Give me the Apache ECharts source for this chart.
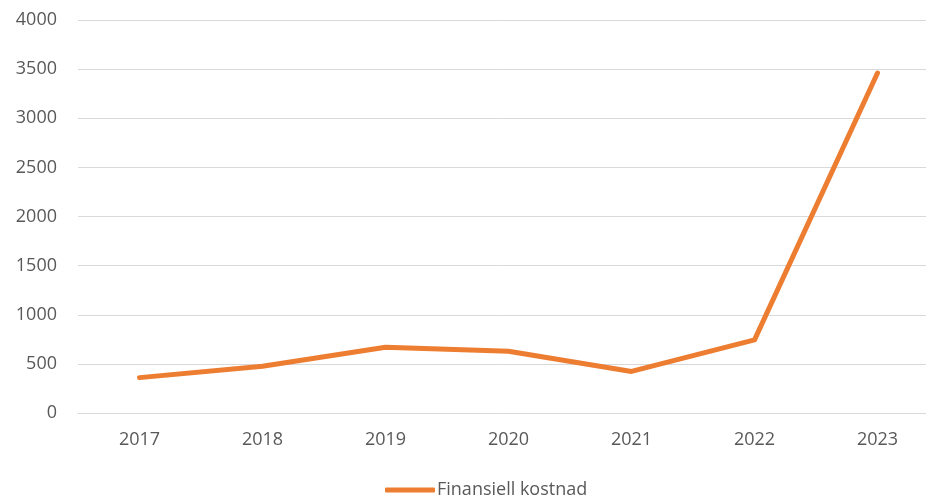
<!DOCTYPE html>
<html>
<head>
<meta charset="utf-8">
<script src="https://cdn.jsdelivr.net/npm/echarts@6/dist/echarts.min.js"></script>
<style>
html,body{margin:0;padding:0;background:#fff;}
#chart{width:926px;height:497px;}
</style>
</head>
<body>
<div id="chart"></div>
<script>
const categories = ['2017','2018','2019','2020','2021','2022','2023'];
const seriesName = 'Finansiell kostnad';
const values = [360, 476, 669, 629, 423, 744, 3460];
const yTicks = {min: 0, max: 4000, interval: 500};

const chart = echarts.init(document.getElementById('chart'));
const font = '"Open Sans", "Noto Sans", sans-serif';
chart.setOption({
  animation: false,
  backgroundColor: '#ffffff',
  grid: {left: 78, top: 20, width: 861, height: 393, containLabel: false, outerBoundsMode: 'none'},
  legend: {
    data: [seriesName],
    left: 380, top: 476,
    icon: 'roundRect',
    itemWidth: 50, itemHeight: 5,
    textStyle: {fontFamily: font, fontSize: 18, color: '#595959', padding: [0,0,0,-3]}
  },
  xAxis: {
    type: 'category',
    data: categories,
    boundaryGap: true,
    axisLine: {show: true, lineStyle: {color: '#D9D9D9', width: 1}},
    axisTick: {show: false},
    axisLabel: {fontFamily: font, fontSize: 18, color: '#595959', margin: 18}
  },
  yAxis: {
    type: 'value',
    min: yTicks.min, max: yTicks.max, interval: yTicks.interval,
    axisLine: {show: false},
    axisTick: {show: false},
    splitLine: {lineStyle: {color: '#D9D9D9', width: 1}},
    axisLabel: {fontFamily: font, fontSize: 18, color: '#595959', margin: 21, formatter: v => String(v)}
  },
  series: [{
    name: seriesName,
    type: 'line',
    data: values,
    showSymbol: false,
    symbol: 'none',
    lineStyle: {color: '#ED7D31', width: 5, cap: 'round', join: 'round'},
    itemStyle: {color: '#ED7D31'}
  }]
});
</script>
</body>
</html>
